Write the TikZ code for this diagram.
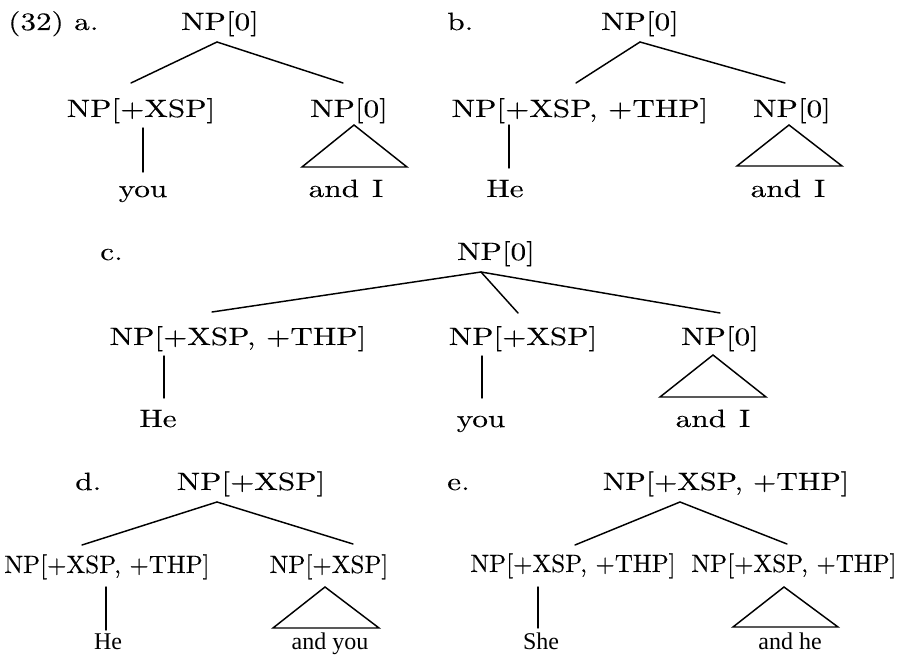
\documentclass[tikz,border=0pt]{standalone}
\usepackage{fontspec}
\setmainfont{lmroman10-regular.otf}[FakeStretch=1.25,FakeBold=0.2]
\newfontfamily\lmplain{lmroman10-regular.otf}[FakeBold=0.2]
\newfontfamily\lmwide{lmroman10-regular.otf}[FakeStretch=1.2,FakeBold=0.2]
\newfontfamily\timesf{Liberation Serif}
\usetikzlibrary{calc}
\tikzset{
  lbl/.style={inner sep=0pt, anchor=base, font=\fontsize{18.75}{22}\selectfont},
  lblplain/.style={lbl, font=\lmplain\fontsize{18.75}{22}\selectfont},
  lblwide/.style={lbl, font=\lmwide\fontsize{18.75}{22}\selectfont},
  leaf/.style={lbl, font=\timesf\fontsize{18}{21}\selectfont},
  tag/.style={lbl, anchor=base west},
  branch/.style={line width=1.1pt, line cap=round},
  roof/.style={line width=1.1pt, line join=miter}
}
\begin{document}
\begin{tikzpicture}[x=0.75pt,y=-0.75pt]
\useasboundingbox (0,0) rectangle (901,656);

% ---------- (32a) ----------
\node[tag] (ta) at (8,30) {(32) a.};
\node[lbl] (a0) at (220,30) {NP[0]};
\node[lbl] (a1) at (141,117) {NP[+XSP]};
\node[lbl] (a2) at (349,117) {NP[0]};
\node[lbl] (a3) at (143,197) {you};
\node[lbl] (a4) at (346,197) {and\hskip0.1em\ I};
\draw[branch] ($(a0.base)+(-3,12)$) -- ($(a1.base)+(-10,-34)$);
\draw[branch] ($(a0.base)+(-3,12)$) -- ($(a2.base)+(-6,-34)$);
\draw[branch] ($(a1.base)+(2,11)$) -- ($(a3.base)+(0,-25)$);
\draw[roof] ($(a2.base)+(5,8)$) -- ($(a4.base)+(-44,-30)$) -- ($(a4.base)+(61,-30)$) -- cycle;

% ---------- (32b) ----------
\node[tag] (tb) at (447,30) {b.};
\node[lbl] (b0) at (640,30) {NP[0]};
\node[lbl] (b1) at (580,117) {NP[+XSP, +THP]};
\node[lbl] (b2) at (792,117) {NP[0]};
\node[lbl] (b3) at (505,197) {He};
\node[lbl] (b4) at (788,197) {and\hskip0.1em\ I};
\draw[branch] ($(b0.base)+(0,12)$) -- ($(b1.base)+(-4,-34)$);
\draw[branch] ($(b0.base)+(0,12)$) -- ($(b2.base)+(-7,-34)$);
\draw[branch] ($(b1.base)+(-71,8)$) -- ($(b3.base)+(4,-29)$);
\draw[roof] ($(b2.base)+(-3,8)$) -- ($(b4.base)+(-51,-31)$) -- ($(b4.base)+(54,-31)$) -- cycle;

% ---------- (32c) ----------
\node[tag] (tc) at (100,260) {c.};
\node[lbl] (c0) at (496,260) {NP[0]};
\node[lbl] (c1) at (238,345) {NP[+XSP, +THP]};
\node[lbl] (c2) at (523,345) {NP[+XSP]};
\node[lbl] (c3) at (720,345) {NP[0]};
\node[lbl] (c4) at (158,427) {He};
\node[lbl] (c5) at (481,427) {you};
\node[lbl] (c6) at (713,427) {and\hskip0.1em\ I};
\draw[branch] ($(c0.base)+(-15,12)$) -- ($(c1.base)+(-26,-33)$);
\draw[branch] ($(c0.base)+(-15,12)$) -- ($(c2.base)+(-5,-32)$);
\draw[branch] ($(c0.base)+(-15,12)$) -- ($(c3.base)+(0,-32)$);
\draw[branch] ($(c1.base)+(-74,11)$) -- ($(c4.base)+(6,-29)$);
\draw[branch] ($(c2.base)+(-41,11)$) -- ($(c5.base)+(1,-29)$);
\draw[roof] ($(c3.base)+(-7,10)$) -- ($(c6.base)+(-53,-30)$) -- ($(c6.base)+(53,-30)$) -- cycle;

% ---------- (32d) ----------
\node[tag] (td) at (75,490) {d.};
\node[lbl] (d0) at (251,490) {NP[+XSP]};
\node[lblplain] (d1) at (107,573) {NP[+XSP, +THP]};
\node[lblplain] (d2) at (329,573) {NP[+XSP]};
\node[leaf] (d3) at (108,649) {He};
\node[leaf] (d4) at (330,649) {and you};
\draw[branch] ($(d0.base)+(-34,12)$) -- ($(d1.base)+(-25,-28)$);
\draw[branch] ($(d0.base)+(-34,12)$) -- ($(d2.base)+(24,-29)$);
\draw[branch] ($(d1.base)+(-1,14)$) -- ($(d3.base)+(-2,-19)$);
\draw[roof] ($(d2.base)+(-4,14)$) -- ($(d4.base)+(-57,-21)$) -- ($(d4.base)+(49,-21)$) -- cycle;

% ---------- (32e) ----------
\node[tag] (te) at (447,490) {e.};
\node[lblwide] (e0) at (726,490) {NP[+XSP, +THP]};
\node[lblplain] (e1) at (573,572) {NP[+XSP, +THP]};
\node[lblplain] (e2) at (794,572) {NP[+XSP, +THP]};
\node[leaf] (e3) at (541,649) {She};
\node[leaf] (e4) at (790,649) {and he};
\draw[branch] ($(e0.base)+(-46,12)$) -- ($(e1.base)+(2,-27)$);
\draw[branch] ($(e0.base)+(-46,12)$) -- ($(e2.base)+(-7,-28)$);
\draw[branch] ($(e1.base)+(-35,15)$) -- ($(e3.base)+(-3,-21)$);
\draw[roof] ($(e2.base)+(-10,15)$) -- ($(e4.base)+(-57,-22)$) -- ($(e4.base)+(48,-22)$) -- cycle;
\end{tikzpicture}
\end{document}
